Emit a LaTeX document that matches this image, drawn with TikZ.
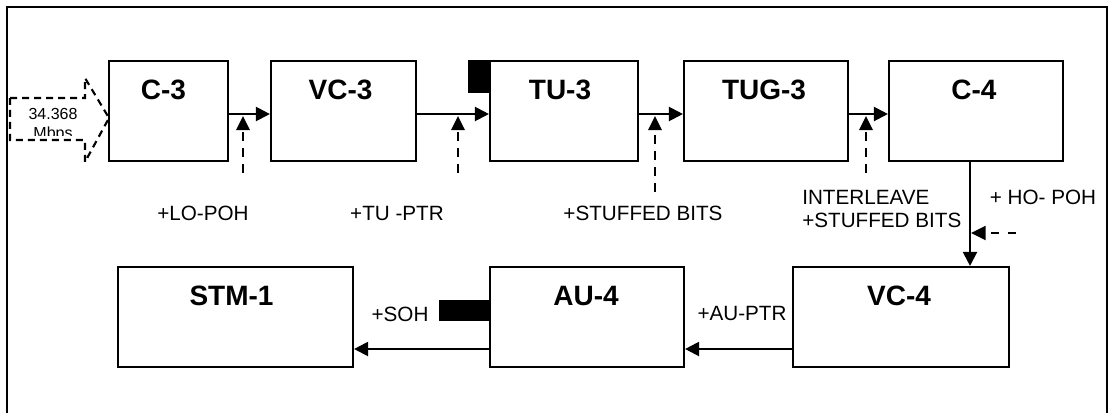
\documentclass[tikz,border=0pt]{standalone}
\usepackage{fontspec}
\setmainfont{Liberation Sans}
\usetikzlibrary{arrows.meta,calc}
\begin{document}
\begin{tikzpicture}[x=0.75pt,y=-0.75pt,
  box/.style={draw, line width=1.6pt, rectangle, inner sep=0pt, minimum height=75pt},
  ttl/.style={font=\bfseries\fontsize{21}{21}\selectfont, inner sep=0pt},
  lbl/.style={font=\fontsize{15.5}{15.5}\selectfont, inner sep=0pt},
  small/.style={font=\fontsize{12}{14.6}\selectfont, inner sep=0pt, align=center},
  arr/.style={line width=1.6pt, -{Triangle[length=10.5pt,width=10.5pt]}},
  darr/.style={line width=1.6pt, dash pattern=on 7pt off 5pt, -{Triangle[length=10.5pt,width=10pt]}},
  inarr/.style={line width=1.6pt, dash pattern=on 5.25pt off 3.75pt},
  blk/.style={fill=black, inner sep=0pt}]
\useasboundingbox (0,0) rectangle (1109,412);
% frame
\draw[line width=1.6pt] (7,418) -- (7,7) -- (1107,7) -- (1107,418);

% top row
\node[box, minimum width=89.25pt] (c3) at (168.5,111) {};
\node[box, minimum width=108.75pt] (vc3) at (343.5,111) {};
\node[box, minimum width=111pt] (tu3) at (564,111) {};
\node[box, minimum width=123pt] (tug3) at (766,111) {};
\node[box, minimum width=130.5pt] (c4) at (976,111) {};
% bottom row
\node[box, minimum width=162pt] (vc4) at (901,317) {};
\node[box, minimum width=145.5pt] (au4) at (587,317) {};
\node[box, minimum width=176.25pt] (stm1) at (235.5,317) {};

% titles
\node[ttl] (tc3) at ($(c3.north)+(-5,30)$) {C-3};
\node[ttl] (tvc3) at ($(vc3.north)+(-3,30)$) {VC-3};
\node[ttl] (ttu3) at ($(tu3.north)+(-4,30)$) {TU-3};
\node[ttl] (ttug3) at ($(tug3.north)+(-2,30)$) {TUG-3};
\node[ttl] (tc4) at ($(c4.north)+(-2,30)$) {C-4};
\node[ttl] (tvc4) at ($(vc4.north)+(-2,30)$) {VC-4};
\node[ttl] (tau4) at ($(au4.north)+(-1,30)$) {AU-4};
\node[ttl] (tstm1) at ($(stm1.north)+(-4,30)$) {STM-1};

% pointer blocks
\node[blk, minimum width=15.75pt, minimum height=24.75pt, anchor=north east] (ptr1) at (tu3.north west) {};
\node[blk, minimum width=37.5pt, minimum height=15.75pt, anchor=east] (soh) at ($(au4.west)+(0,-6.5)$) {};

% main arrows top row
\draw[arr] ([yshift=-2.25pt]c3.east) -- ([yshift=-2.25pt]vc3.west);
\draw[arr] ([yshift=-2.25pt]vc3.east) -- ([yshift=-2.25pt]tu3.west);
\draw[arr] ([yshift=-2.25pt]tu3.east) -- ([yshift=-2.25pt]tug3.west);
\draw[arr] ([yshift=-2.25pt]tug3.east) -- ([yshift=-2.25pt]c4.west);
% down arrow
\draw[arr] ([xshift=-4.5pt]c4.south) -- ([xshift=-4.5pt]c4.south |- vc4.north);
% bottom row arrows
\draw[arr] ([yshift=-24pt]vc4.west) -- ([yshift=-24pt]au4.east);
\draw[arr] ([yshift=-24pt]au4.west) -- ([yshift=-24pt]stm1.east);

% dashed insertion arrows
\coordinate (d1) at (243,173);
\coordinate (e1) at (243,116);
\coordinate (d2) at (458,173);
\coordinate (e2) at (458,116);
\coordinate (d3) at (655,192);
\coordinate (e3) at (655,116);
\coordinate (d4) at (866,173);
\coordinate (e4) at (866,116);
\coordinate (d5) at (1016,233);
\coordinate (e5) at (971,233);
\draw[darr] (d1) -- (e1);
\draw[darr] (d2) -- (e2);
\draw[darr] (d3) -- (e3);
\draw[darr] (d4) -- (e4);
\draw[line width=1.6pt, dash pattern=on 6pt off 7pt, -{Triangle[length=11pt,width=10.5pt]}] (d5) -- (e5);

% labels
\node[lbl] (l1) at (203,213) {+LO-POH};
\node[lbl] (l2) at (397,213) {+TU -PTR};
\node[lbl] (l3) at (643,213) {+STUFFED BITS};
\node[lbl, anchor=west] (l4) at (802,197) {INTERLEAVE};
\node[lbl, anchor=west] (l5) at (802,220) {+STUFFED BITS};
\node[lbl] (l6) at (1043,197) {+ HO- POH};
\node[lbl] (l7) at (400,314) {+SOH};
\node[lbl] (l8) at (742,313) {+AU-PTR};

% input dashed arrow
\draw[inarr] (10,98) -- (85,98) -- (85,78) -- (109,118) -- (85,162) -- (85,140) -- (10,140) -- cycle;
\begin{scope}
\clip (12,100) rectangle (83,135);
\node[small, anchor=base] (rate) at (53,138.5) {34.368\\Mbps};
\end{scope}
\end{tikzpicture}
\end{document}
